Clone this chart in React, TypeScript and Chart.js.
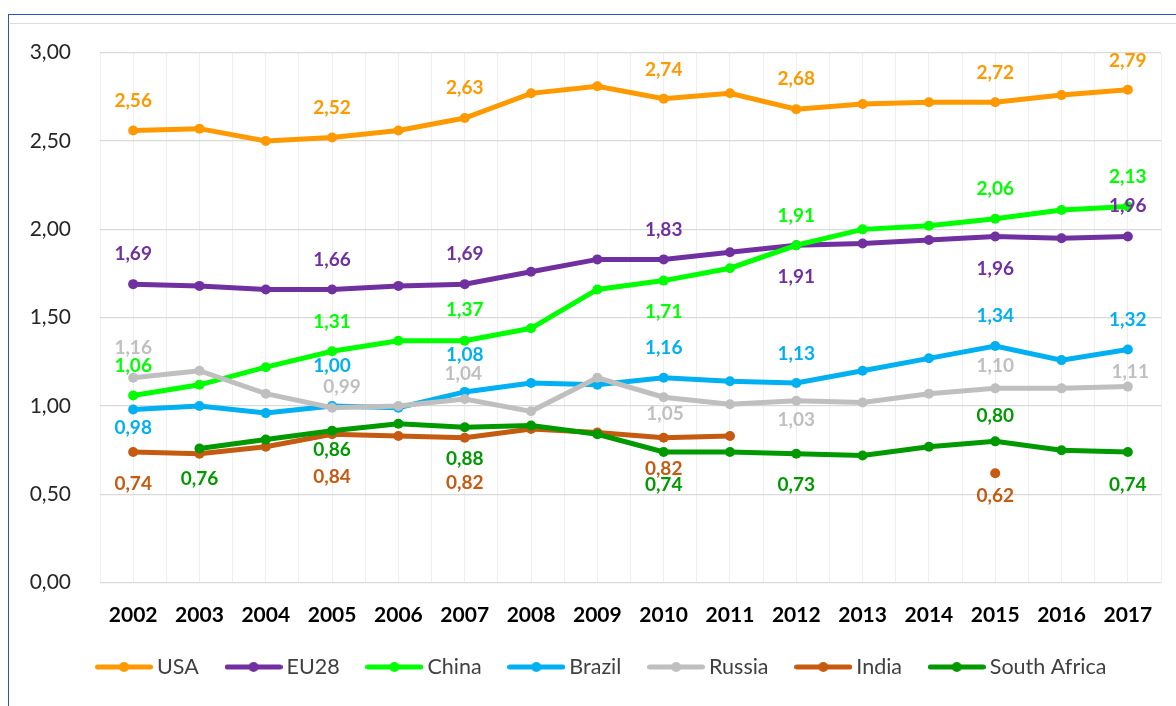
import React, { useEffect, useRef } from 'react';
import { Chart, registerables } from 'chart.js';

Chart.register(...registerables);

// ---------- data ----------
const years = ['2002', '2003', '2004', '2005', '2006', '2007', '2008', '2009', '2010', '2011', '2012', '2013', '2014', '2015', '2016', '2017'];

const usa = [2.56, 2.57, 2.5, 2.52, 2.56, 2.63, 2.77, 2.81, 2.74, 2.77, 2.68, 2.71, 2.72, 2.72, 2.76, 2.79];
const eu28 = [1.69, 1.68, 1.66, 1.66, 1.68, 1.69, 1.76, 1.83, 1.83, 1.87, 1.91, 1.92, 1.94, 1.96, 1.95, 1.96];
const china = [1.06, 1.12, 1.22, 1.31, 1.37, 1.37, 1.44, 1.66, 1.71, 1.78, 1.91, 2.0, 2.02, 2.06, 2.11, 2.13];
const brazil = [0.98, 1.0, 0.96, 1.0, 0.99, 1.08, 1.13, 1.12, 1.16, 1.14, 1.13, 1.2, 1.27, 1.34, 1.26, 1.32];
const russia = [1.16, 1.2, 1.07, 0.99, 1.0, 1.04, 0.97, 1.16, 1.05, 1.01, 1.03, 1.02, 1.07, 1.1, 1.1, 1.11];
const india = [0.74, 0.73, 0.77, 0.84, 0.83, 0.82, 0.87, 0.85, 0.82, 0.83, null, null, null, 0.62, null, null];
const southAfrica = [null, 0.76, 0.81, 0.86, 0.9, 0.88, 0.89, 0.84, 0.74, 0.74, 0.73, 0.72, 0.77, 0.8, 0.75, 0.74];

const seriesNames = ['USA', 'EU28', 'China', 'Brazil', 'Russia', 'India', 'South Africa'];
const seriesValues = [usa, eu28, china, brazil, russia, india, southAfrica];

const yTicks = [0, 0.5, 1, 1.5, 2, 2.5, 3];

// ---------- styles ----------
const seriesColors = ['#ff9900', '#7030a0', '#00ff00', '#00b0f0', '#bfbfbf', '#c55a11', '#009a00'];

// which points carry a value label, and where the label sits (pixels from the point)
const labelPlacement: { i: number; dy: number; dx?: number }[][] = [
  [{ i: 0, dy: -29.5 }, { i: 3, dy: -29.5 }, { i: 5, dy: -30 }, { i: 8, dy: -28.5 }, { i: 10, dy: -30 }, { i: 13, dy: -29 }, { i: 15, dy: -29 }],
  [{ i: 0, dy: -30 }, { i: 3, dy: -29.5 }, { i: 5, dy: -30 }, { i: 8, dy: -30 }, { i: 10, dy: 31.5 }, { i: 13, dy: 32 }, { i: 15, dy: -31 }],
  [{ i: 0, dy: -29.7 }, { i: 3, dy: -29.2 }, { i: 5, dy: -31 }, { i: 8, dy: 30.8 }, { i: 10, dy: -29 }, { i: 13, dy: -29.7 }, { i: 15, dy: -29.7 }],
  [{ i: 0, dy: 18.7 }, { i: 3, dy: -39.8 }, { i: 5, dy: -37 }, { i: 8, dy: -30 }, { i: 10, dy: -29.4 }, { i: 13, dy: -29.7 }, { i: 15, dy: -29.6 }],
  [{ i: 0, dy: -29.5 }, { i: 3, dy: -20.7, dx: 10 }, { i: 5, dy: -25, dx: -1.5 }, { i: 8, dy: 16.4, dx: 1.3 }, { i: 10, dy: 18.9 }, { i: 13, dy: -22.6 }, { i: 15, dy: -14.5, dx: 2.3 }],
  [{ i: 0, dy: 32 }, { i: 3, dy: 43 }, { i: 5, dy: 44.6 }, { i: 8, dy: 31 }, { i: 13, dy: 22.7 }],
  [{ i: 1, dy: 30.7 }, { i: 3, dy: 19.5 }, { i: 5, dy: 31.4 }, { i: 8, dy: 33 }, { i: 10, dy: 31.5 }, { i: 13, dy: -25.6 }, { i: 15, dy: 32.5 }],
];

const fmt = (v: number) => v.toFixed(2).replace('.', ',');

function legendImage(color: string) {
  const c = document.createElement('canvas');
  c.width = 58;
  c.height = 12;
  const ctx = c.getContext('2d')!;
  ctx.strokeStyle = color;
  ctx.lineWidth = 5;
  ctx.lineCap = 'round';
  ctx.beginPath();
  ctx.moveTo(2.5, 6);
  ctx.lineTo(55.5, 6);
  ctx.stroke();
  ctx.fillStyle = color;
  ctx.beginPath();
  ctx.arc(29, 6, 5, 0, Math.PI * 2);
  ctx.fill();
  return c;
}

const valueLabelPlugin = {
  id: 'valueLabels',
  afterDatasetsDraw(chart: any) {
    const ctx = chart.ctx;
    ctx.save();
    ctx.font = 'bold 19px Lato';
    ctx.textAlign = 'center';
    ctx.textBaseline = 'middle';
    labelPlacement.forEach((list, di) => {
      const meta = chart.getDatasetMeta(di);
      const data = chart.data.datasets[di].data;
      ctx.fillStyle = seriesColors[di];
      list.forEach((p) => {
        const el = meta.data[p.i];
        const v = data[p.i];
        if (!el || v == null) return;
        ctx.fillText(fmt(v), el.x + (p.dx || 0), el.y + p.dy);
      });
    });
    ctx.restore();
  },
};

export default function App() {
  const ref = useRef<HTMLCanvasElement>(null);

  useEffect(() => {
    if (!ref.current) return;
    Chart.defaults.font.family = 'Lato';
    const images = seriesColors.map((c) => legendImage(c));
    const chart = new Chart(ref.current, {
      type: 'line',
      data: {
        labels: years,
        datasets: seriesNames.map((name, i) => ({
          label: name,
          data: seriesValues[i],
          borderColor: seriesColors[i],
          backgroundColor: seriesColors[i],
          pointBackgroundColor: seriesColors[i],
          pointBorderWidth: 0,
          pointRadius: 5,
          borderWidth: 5,
          tension: 0,
          spanGaps: false,
          order: seriesNames.length - 1 - i,
          xAxisID: 'x',
          yAxisID: 'y',
        })),
      },
      options: {
        animation: false,
        responsive: false,
        devicePixelRatio: 1,
        layout: { padding: { top: 44.7, right: 15, bottom: 18.25, left: 61.25 } },
        scales: {
          x: {
            type: 'category',
            position: 'bottom',
            offset: true,
            grid: { display: false, drawTicks: false },
            border: { display: false },
            ticks: {
              font: { family: 'Lato', size: 21, weight: 'bold' },
              color: '#000000',
              padding: 19.5,
              maxRotation: 0,
              autoSkip: false,
            },
            afterFit: (s: any) => {
              s.height = 41.05;
            },
          },
          xg: {
            type: 'linear',
            position: 'top',
            min: -0.5,
            max: 15.5,
            ticks: { display: false, stepSize: 0.5 },
            grid: { color: '#eeeeee', lineWidth: 1, drawTicks: false },
            border: { display: false },
            afterFit: (s: any) => {
              s.height = 0;
            },
          },
          y: {
            type: 'linear',
            min: 0,
            max: 3,
            afterBuildTicks: (s: any) => {
              s.ticks = yTicks.map((v) => ({ value: v }));
            },
            ticks: {
              callback: (v: any) => fmt(Number(v)),
              font: { family: 'Lato', size: 21 },
              color: '#262626',
              padding: 29,
            },
            grid: { color: '#d9d9d9', lineWidth: 1.2, drawTicks: false },
            border: { display: false },
            afterFit: (s: any) => {
              s.width = 30.75;
              // let the tick labels extend left of the narrow axis box
              s._computeLabelArea = () => undefined;
            },
          },
        },
        plugins: {
          tooltip: { enabled: false },
          legend: {
            position: 'bottom',
            align: 'start',
            labels: {
              usePointStyle: true,
              pointStyleWidth: 44.5,
              padding: 32.5,
              font: { family: 'Lato', size: 21.5 },
              color: '#404040',
              generateLabels: () =>
                seriesNames.map((name, i) => ({
                  text: name,
                  fillStyle: seriesColors[i],
                  strokeStyle: seriesColors[i],
                  lineWidth: 0,
                  pointStyle: images[i],
                  hidden: false,
                  datasetIndex: i,
                  fontColor: '#404040',
                })),
            },
          },
        },
      } as any,
      plugins: [valueLabelPlugin],
    });
    return () => chart.destroy();
  }, []);

  return (
    <div style={{ position: 'fixed', left: 0, top: 0, width: 1176, height: 706, overflow: 'hidden', background: '#ffffff' }}>
      <div
        style={{
          position: 'absolute',
          left: 8,
          top: 13.5,
          width: 2000,
          height: 2000,
          borderTop: '1.5px solid #2f54c0',
          borderLeft: '1.5px solid #2f54c0',
        }}
      />
      <div style={{ position: 'absolute', left: 9.5, top: 23, right: 0, height: 1, background: '#dcdcdc' }} />
      <canvas ref={ref} width={1168} height={698} style={{ position: 'absolute', left: 8, top: 8 }} />
    </div>
  );
}
